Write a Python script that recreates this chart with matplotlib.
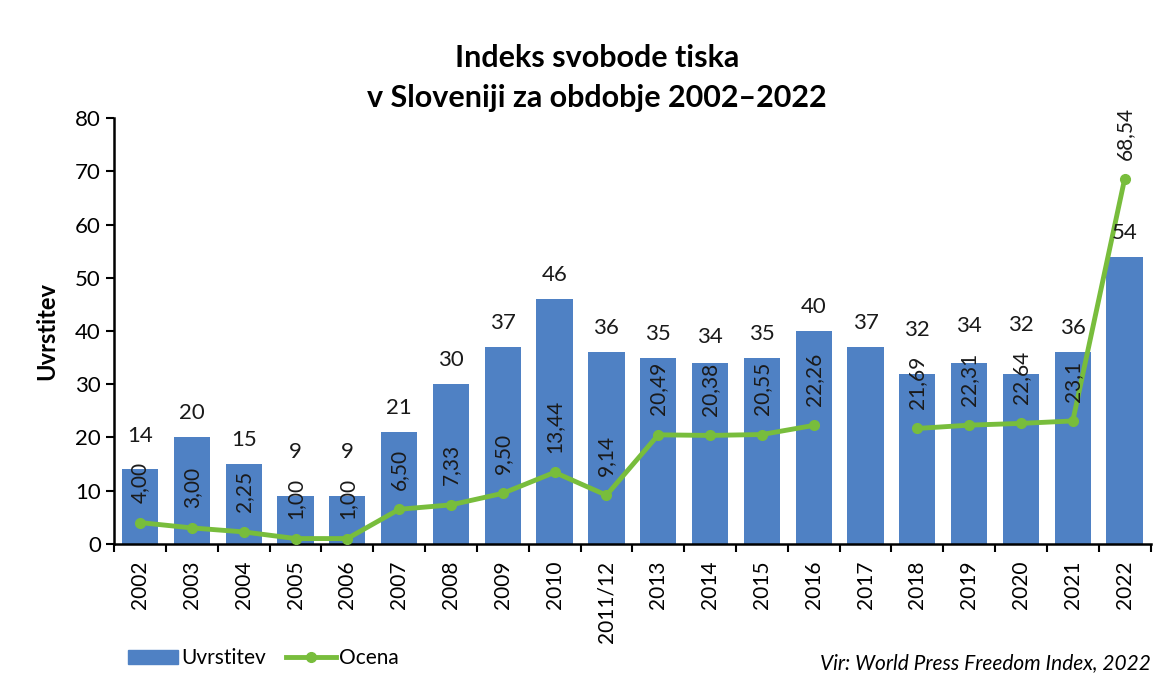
import numpy as np
import matplotlib.pyplot as plt
from matplotlib.patches import Patch
from matplotlib.lines import Line2D

plt.rcParams['font.family'] = ['Lato', 'DejaVu Sans']

# data
years = ['2002', '2003', '2004', '2005', '2006', '2007', '2008', '2009', '2010', '2011/12',
         '2013', '2014', '2015', '2016', '2017', '2018', '2019', '2020', '2021', '2022']
rank = [14, 20, 15, 9, 9, 21, 30, 37, 46, 36, 35, 34, 35, 40, 37, 32, 34, 32, 36, 54]
score = [4.00, 3.00, 2.25, 1.00, 1.00, 6.50, 7.33, 9.50, 13.44, 9.14,
         20.49, 20.38, 20.55, 22.26, np.nan, 21.69, 22.31, 22.64, 23.1, 68.54]
score_labels = ['4,00', '3,00', '2,25', '1,00', '1,00', '6,50', '7,33', '9,50', '13,44', '9,14',
                '20,49', '20,38', '20,55', '22,26', '', '21,69', '22,31', '22,64', '23,1', '68,54']

bar_color = '#4f81c4'
line_color = '#78bd3c'

fig = plt.figure(figsize=(11.71, 6.79), dpi=100)
ax = fig.add_axes([0.0975, 0.199, 0.885, 0.627])

x = np.arange(len(years))
ax.bar(x, rank, width=0.7, color=bar_color, zorder=2)
ax.plot(x, score, color=line_color, lw=3.5, marker='o', ms=7, zorder=3)

ax.set_xlim(-0.5, len(years) - 0.5)
ax.set_ylim(0, 80)
ax.set_yticks(range(0, 81, 10))
ax.set_xticks(x)
ax.set_xticklabels(years, rotation=90, fontsize=15)
ax.tick_params(axis='x', length=0, pad=12)
ax.set_xticks(np.arange(-0.5, len(years), 1), minor=True)
ax.tick_params(axis='x', which='minor', length=6, width=1.5, direction='out')
ax.tick_params(axis='y', labelsize=16, length=6, width=1.5, direction='out')
for s in ['top', 'right']:
    ax.spines[s].set_visible(False)
for s in ['left', 'bottom']:
    ax.spines[s].set_linewidth(1.8)

ax.set_ylabel('Uvrstitev', fontsize=17, fontweight='bold', labelpad=12)

# labels of the score line, rotated
line_texts = []
for i, (v, lab) in enumerate(zip(score, score_labels)):
    if lab == '':
        line_texts.append(None)
        continue
    t = ax.annotate(lab, (i, v), xytext=(0, 14), textcoords='offset points',
                    rotation=90, ha='center', va='bottom', fontsize=15, color='#1a1a1a', zorder=4)
    line_texts.append(t)

# bar labels: above the bar, or above the line label if that sticks out of the bar
fig.canvas.draw()
renderer = fig.canvas.get_renderer()
inv = ax.transData.inverted()
for i, v in enumerate(rank):
    top_px = ax.transData.transform((i, v))[1] + 14
    t = line_texts[i]
    if t is not None and score[i] < v:
        bb = t.get_window_extent(renderer)
        top_px = max(top_px, bb.y1 + 16)
    ypos = inv.transform((0, top_px))[1]
    ax.text(i, ypos, str(v), ha='center', va='bottom', fontsize=16, color='#1a1a1a', zorder=4)

fig.suptitle('Indeks svobode tiska\nv Sloveniji za obdobje 2002–2022', fontsize=22,
             fontweight='bold', y=0.935, x=0.51, linespacing=1.5)

handles = [Patch(color=bar_color, label='Uvrstitev'),
           Line2D([], [], color=line_color, lw=3.5, marker='o', ms=7, label='Ocena')]
fig.legend(handles=handles, loc='lower left', bbox_to_anchor=(0.093, -0.012), ncol=2,
           frameon=False, fontsize=15, handlelength=2.4, handletextpad=0.15,
           columnspacing=1.0)

fig.text(0.983, 0.008, 'Vir: World Press Freedom Index, 2022', ha='right', va='bottom',
         fontsize=15, style='italic')

fig.savefig('out.png', dpi=100)
